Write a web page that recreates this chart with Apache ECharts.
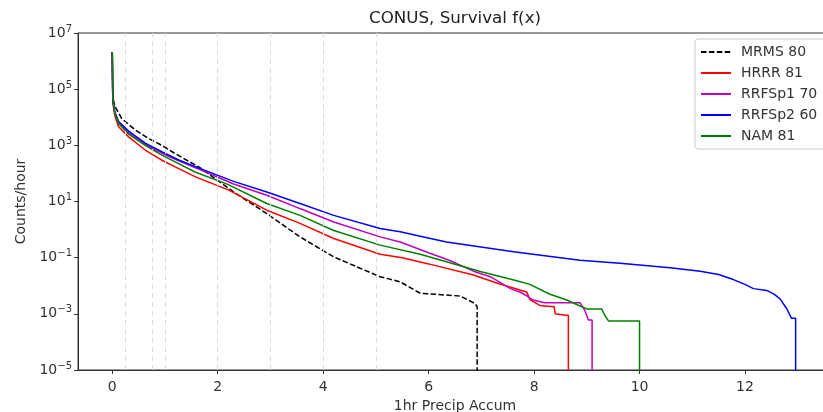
<!DOCTYPE html>
<html><head><meta charset="utf-8">
<script src="https://cdn.jsdelivr.net/npm/echarts@6/dist/echarts.min.js"></script>
<style>html,body{margin:0;padding:0;background:#fff}#c{width:823px;height:412px}</style>
</head><body><div id="c"></div>
<script>
const seriesNames = ['MRMS 80', 'HRRR 81', 'RRFSp1 70', 'RRFSp2 60', 'NAM 81'];
const seriesColors = ['#000000', '#ff0000', '#bf00bf', '#0000ff', '#008000'];
const thresholds = [0.25, 0.75, 1, 2, 3, 4, 5];
const xTicks = [0, 2, 4, 6, 8, 10, 12];

const mrms = [[0,2.1e6],[0.01,6e4],[0.03,3.4e4],[0.06,2.3e4],[0.18,8.9e3],[0.44,3.5e3],[0.69,1.75e3],[0.94,1.0e3],[1.19,510],[1.67,158],[2.3,22],[2.93,3.7],[3.56,0.55],[4.2,0.107],[4.7,0.042],[5.08,0.021],[5.46,0.0138],[5.84,0.0054],[6.6,0.0043],[6.75,0.0031],[6.88,0.0023],[6.92,0.0018],[6.92,1e-6]];
const hrrr = [[0,2.1e6],[0.01,3.2e4],[0.05,1.1e4],[0.12,4.6e3],[0.31,2.0e3],[0.625,680],[0.94,295],[1.26,148],[1.6,72],[2.2,26],[2.93,4.9],[3.56,1.66],[4.2,0.48],[5.08,0.132],[5.5,0.1],[6.0,0.06],[6.85,0.024],[7.29,0.0126],[7.73,0.0071],[7.86,0.006],[7.92,0.0032],[8.11,0.002],[8.38,0.0018],[8.4,0.001],[8.6,0.00089],[8.65,0.00089],[8.65,1e-6]];
const rrfsp1 = [[0,2.1e6],[0.01,4.5e4],[0.05,1.4e4],[0.12,6.6e3],[0.31,2.8e3],[0.625,1.07e3],[0.94,525],[1.26,282],[1.67,135],[2.3,42],[2.93,16.6],[3.56,5.6],[4.2,1.86],[5.08,0.55],[5.46,0.36],[6.0,0.15],[6.4,0.079],[6.85,0.033],[7.17,0.021],[7.55,0.0079],[7.73,0.006],[7.86,0.0044],[7.98,0.0031],[8.2,0.0025],[8.87,0.0025],[8.96,0.00135],[9.03,0.0006],[9.1,0.0006],[9.1,1e-6]];
const rrfsp2 = [[0,2.1e6],[0.01,4.5e4],[0.05,1.5e4],[0.12,7.1e3],[0.31,3.2e3],[0.625,1.2e3],[0.94,590],[1.26,300],[1.67,148],[2.3,52],[2.93,21.9],[3.56,8.5],[4.2,3.2],[5.08,1.1],[5.46,0.83],[5.84,0.575],[6.34,0.36],[7.61,0.162],[8.87,0.081],[9.63,0.063],[10.58,0.044],[11.15,0.033],[11.5,0.025],[11.78,0.0166],[12.0,0.0112],[12.16,0.0079],[12.41,0.0068],[12.55,0.005],[12.66,0.0035],[12.79,0.00155],[12.88,0.0007],[12.96,0.0007],[12.96,1e-6]];
const nam = [[0,2.1e6],[0.01,4.5e4],[0.05,1.3e4],[0.12,6.0e3],[0.31,2.5e3],[0.625,1.0e3],[0.94,447],[1.57,112],[2.2,40],[2.93,8.5],[3.56,3.2],[4.2,0.93],[5.08,0.28],[5.84,0.132],[6.98,0.032],[7.67,0.015],[7.92,0.0112],[8.3,0.005],[8.62,0.0031],[8.87,0.0019],[9.0,0.0015],[9.28,0.0015],[9.34,0.00089],[9.41,0.00056],[10.0,0.00056],[10.0,1e-6]];
const seriesData = [mrms, hrrr, rrfsp1, rrfsp2, nam];

const FONT = 'DejaVu Sans';
const chart = echarts.init(document.getElementById('c'), null, {renderer: 'canvas'});

const lineSeries = seriesData.map((d, i) => ({
  name: seriesNames[i],
  type: 'line',
  data: d,
  symbol: 'none',
  showSymbol: false,
  clip: true,
  itemStyle: {color: seriesColors[i]},
  lineStyle: {color: seriesColors[i], width: 1.5, type: i === 0 ? [5.5, 2.4] : 'solid'}
}));

const option = {
  animation: false,
  backgroundColor: '#fff',
  title: {
    text: 'CONUS, Survival f(x)',
    left: 455, top: 10, padding: 0, textAlign: 'center',
    textStyle: {fontFamily: FONT, fontSize: 16.7, fontWeight: 'normal', color: '#222'}
  },
  legend: {
    data: seriesNames,
    orient: 'vertical',
    left: 695, top: 39,
    itemWidth: 30, itemHeight: 14, itemGap: 7,
    padding: [6, 20, 6, 5],
    borderColor: '#ccc', borderWidth: 1, borderRadius: 3,
    backgroundColor: 'rgba(255,255,255,0.8)',
    itemStyle: {opacity: 0},
    textStyle: {fontFamily: FONT, fontSize: 14, color: '#333', padding: [0, 0, 0, 5]}
  },
  grid: {
    left: 78, top: 33, width: 754, height: 337,
    outerBoundsMode: 'none', containLabel: false,
    show: true, borderColor: '#333', borderWidth: 1, backgroundColor: 'transparent'
  },
  xAxis: {
    type: 'value', min: -0.65, max: 13.65,
    name: '1hr Precip Accum', nameLocation: 'middle', nameGap: 28,
    nameTextStyle: {fontFamily: FONT, fontSize: 14, color: '#333'},
    axisLine: {show: true, onZero: false, lineStyle: {color: '#333', width: 1}},
    axisTick: {show: true, length: 4, customValues: xTicks, lineStyle: {color: '#333'}},
    axisLabel: {customValues: xTicks, fontFamily: FONT, fontSize: 14, color: '#333', margin: 10},
    splitLine: {show: false}
  },
  yAxis: {
    type: 'log', logBase: 10, min: 1e-5, max: 1e7, interval: 2,
    name: 'Counts/hour', nameLocation: 'middle', nameGap: 49,
    nameTextStyle: {fontFamily: FONT, fontSize: 14, color: '#333'},
    axisLine: {show: true, onZero: false, lineStyle: {color: '#333', width: 1}},
    axisTick: {show: true, length: 4, lineStyle: {color: '#333'}},
    minorTick: {show: false},
    axisLabel: {
      margin: 6,
      formatter: v => {
        const e = Math.round(Math.log10(v));
        return '{b|10}{s|' + (e < 0 ? '\u2212' + (-e) : String(e)) + '}';
      },
      rich: {
        b: {fontFamily: FONT, fontSize: 14, color: '#333'},
        s: {fontFamily: FONT, fontSize: 10, color: '#333', padding: [0, 0, 8, 0]}
      }
    },
    splitLine: {show: false}
  },
  series: [{
    name: 'thresholds', type: 'line', data: [], silent: true,
    markLine: {
      silent: true, symbol: ['none', 'none'], label: {show: false},
      lineStyle: {color: '#dcdcdc', type: [5, 4], width: 1},
      data: thresholds.map(v => ({xAxis: v}))
    }
  }].concat(lineSeries)
};
chart.setOption(option);
</script>
</body></html>
